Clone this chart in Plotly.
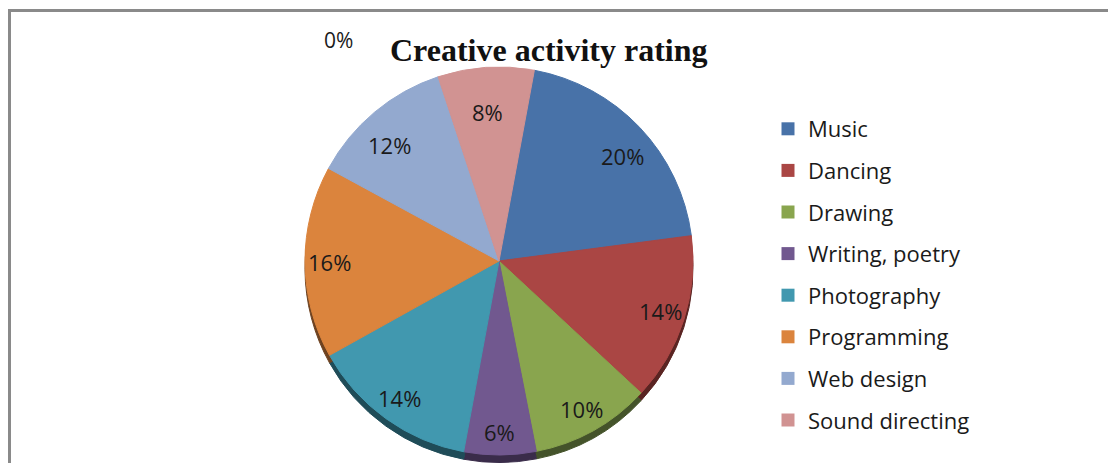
import math
import plotly.graph_objects as go

categories = ["Music", "Dancing", "Drawing", "Writing, poetry", "Photography",
              "Programming", "Web design", "Sound directing"]
values = [20, 14, 10, 6, 14, 16, 12, 8]
colors = ["#4872A8", "#AA4644", "#89A54E", "#71588F", "#4198AF",
          "#DB843D", "#93A9CF", "#D19392"]
side_colors = ["#263d5a", "#5a2422", "#44532a", "#3a2c4a", "#1f4c58",
               "#6e4220", "#4a5568", "#6a4a49"]
title_text = "Creative activity rating"
zero_label = "0%"

# The page body has an 8px default margin; the figure is sized so the page
# fills exactly the 1116x471 window, and page coordinates are shifted by 8px.
OFF = 8
W, H = 1116 - 2 * OFF, 471 - 2 * OFF

def fx(px):
    return (px - OFF) / W

def fy(py):
    return 1 - (py - OFF) / H

cx, cy, r = 499, 261, 194
depth = 7.5
rotation = 10.5

def clamp(v):
    return min(1.0, max(0.0, v))

def dom(cx, cy, r):
    return dict(x=[clamp(fx(cx - r)), clamp(fx(cx + r))],
                y=[clamp(fy(cy + r)), clamp(fy(cy - r))])

fig = go.Figure()

# 3D side (shadow) of the pie
fig.add_trace(go.Pie(
    labels=categories, values=values, sort=False, direction="clockwise",
    rotation=rotation, domain=dom(cx, cy + depth, r),
    marker=dict(colors=side_colors, line=dict(color=side_colors, width=1)),
    textinfo="none", hoverinfo="skip", showlegend=False,
))

# Top face
fig.add_trace(go.Pie(
    labels=categories, values=values, sort=False, direction="clockwise",
    rotation=rotation, domain=dom(cx, cy, r),
    marker=dict(colors=colors, line=dict(color=colors, width=1)),
    textinfo="none", showlegend=False,
))

# Percentage labels placed at the middle angle of each slice
annotations = []
total = sum(values)
cum = 0
for v in values:
    mid = math.radians(rotation + (cum + v / 2) / total * 360)
    cum += v
    c, s = math.cos(mid), math.sin(mid)
    px = cx + 0.876 * r * s
    py = cy - 0.825 * r * c + 11 * c * c
    annotations.append(dict(
        text=f"{round(v / total * 100)}%", x=fx(px), y=fy(py),
        xref="paper", yref="paper", xanchor="center", yanchor="middle",
        showarrow=False, font=dict(family="Open Sans", size=22, color="#1a1a1a")))

# Legend entries
for name, col in zip(categories, colors):
    fig.add_trace(go.Scatter(
        x=[None], y=[None], mode="markers", name=name, legendgroup=name,
        marker=dict(symbol="square", size=13, color=col),
    ))

annotations += [
    dict(text="<b>" + title_text + "</b>", x=fx(549), y=fy(50),
         xref="paper", yref="paper", xanchor="center", yanchor="middle",
         showarrow=False,
         font=dict(family="Liberation Serif", size=32, color="#111111")),
    dict(text=zero_label, x=fx(338), y=fy(40), xref="paper", yref="paper",
         xanchor="center", yanchor="middle", showarrow=False,
         font=dict(family="Open Sans", size=21, color="#1a1a1a")),
]

fig.update_layout(
    width=W, height=H,
    margin=dict(l=0, r=0, t=0, b=0, pad=0, autoexpand=False),
    paper_bgcolor="white", plot_bgcolor="white",
    xaxis=dict(visible=False), yaxis=dict(visible=False),
    legend=dict(x=fx(768), y=fy(108), xanchor="left", yanchor="top",
                font=dict(family="Open Sans", size=22, color="#1a1a1a"),
                tracegroupgap=10, bgcolor="rgba(0,0,0,0)"),
    annotations=annotations,
    shapes=[dict(type="rect", xref="paper", yref="paper",
                 x0=fx(9.5), x1=1.05, y0=-0.05, y1=fy(10.5),
                 line=dict(color="#8a8a8a", width=3))],
)

fig.write_html("out.html")
